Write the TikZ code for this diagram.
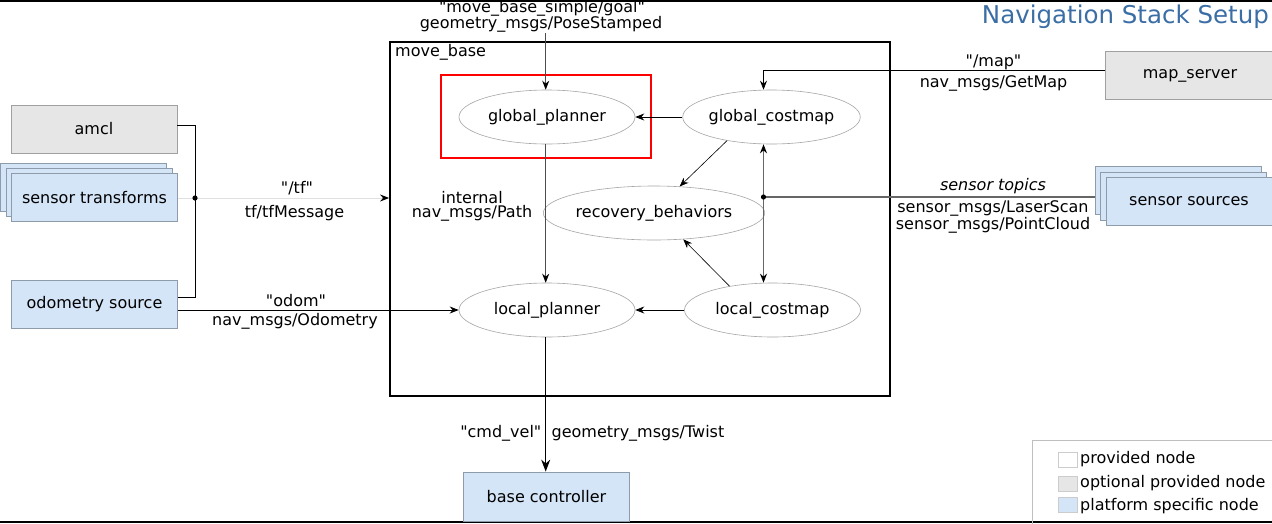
\documentclass[tikz,border=0pt]{standalone}
\usepackage{fontspec}
\setmainfont{DejaVu Sans}[Ligatures=TeXOff]
\usetikzlibrary{arrows.meta,shapes.geometric}
\definecolor{optgray}{HTML}{E6E6E6}
\definecolor{platblue}{HTML}{D5E5F8}
\definecolor{grayedge}{HTML}{A0A0A0}
\definecolor{blueedge}{HTML}{8E9BAA}
\definecolor{titleblue}{HTML}{3A6EA5}
\tikzset{
  optbox/.style={draw=grayedge, fill=optgray, minimum width=166pt, minimum height=48pt, inner sep=0pt, line width=0.8pt},
  platbox/.style={draw=blueedge, fill=platblue, minimum width=166pt, minimum height=48pt, inner sep=0pt, line width=0.8pt},
  proc/.style={ellipse, draw=black!35, line width=0.6pt, minimum width=176pt, minimum height=54pt, inner sep=0pt},
  lbl/.style={inner sep=0pt},
  conn/.style={draw=black, line width=0.8pt},
  tfconn/.style={draw=black!12, line width=1pt},
  sensconn/.style={draw=black!60, line width=1.5pt},
  swatch/.style={draw=black!20, minimum width=19pt, minimum height=15pt, inner sep=0pt, anchor=north west},
  tip/.style={-{Stealth[length=9pt,width=7pt,color=black]}},
  bigtip/.style={-{Stealth[length=12pt,width=9pt,color=black]}},
}
\begin{document}
\begin{tikzpicture}[x=1pt,y=-1pt,font=\fontsize{16}{18}\selectfont]
\clip (0,0) rectangle (1272,523);
\fill[white] (0,0) rectangle (1272,523);
% frame lines
\draw[line width=1.5pt] (0,0.75) -- (1272,0.75);
\draw[line width=2pt] (0,521.5) -- (1272,521.5);
% title
\node[lbl, anchor=base east, text=titleblue, font=\fontsize{24.5}{26}\selectfont] (title) at (1269,23.5) {Navigation Stack Setup};
% move_base container
\node[draw, line width=1.8pt, minimum width=500pt, minimum height=354pt, inner sep=0pt] (mb) at (640,219) {};
\node[lbl, anchor=west] (mblabel) at (395,52.5) {move\_base};
% left nodes
\node[optbox] (amcl) at (94,129) {amcl};
\node[platbox] (stb) at (83,187.5) {};
\node[platbox] (stm) at (89,192.5) {};
\node[platbox] (st) at (94.5,197.5) {sensor transforms};
\node[platbox] (odom) at (94.5,304) {odometry source};
% right nodes
\node[optbox, minimum width=170pt] (ms) at (1190,75.5) {map\_server};
\node[platbox] (ssb) at (1178,190.5) {};
\node[platbox] (ssm) at (1183.5,196) {};
\node[platbox] (ss) at (1189,201.5) {sensor sources};
% bottom
\node[platbox, minimum height=49pt] (bc) at (546.5,496.5) {base controller};
% processes
\node[proc] (gp) at (547,117) {global\_planner};
\node[proc] (gc) at (771.5,117) {global\_costmap};
\node[proc] (rb) at (654,213) {recovery\_behaviors};
\node[proc] (lp) at (547,310) {local\_planner};
\node[proc] (lc) at (772.5,310) {local\_costmap};
% highlight
\node[draw=red, line width=2.5pt, minimum width=210pt, minimum height=83pt, inner sep=0pt] (hl) at (546,116.5) {};
% coordinates
\coordinate (ja) at (195,125);
\coordinate (j) at (195,198);
\coordinate (jo) at (195,297);
\coordinate (goal) at (545.7,33);
\coordinate (mapc) at (763.5,70);
\coordinate (sj) at (763.5,197);
% tf connectors
\draw[conn] (amcl.east |- ja) -- (ja) -- (jo) -- (odom.east |- jo);
\draw[tfconn] (st.east |- j) -- (j);
\draw[tfconn, tip] (j) -- (j -| mb.west);
\fill (j) circle[radius=2.6pt];
\node[lbl] (tfa) at (297,188.5) {"/tf"};
\node[lbl] (tfb) at (294.5,213) {tf/tfMessage};
% odom
\draw[conn, tip] (odom.east |- 0,310) -- (lp.west);
\node[lbl] (oda) at (296,300.5) {"odom"};
\node[lbl] (odb) at (295,321) {nav\_msgs/Odometry};
% goal
\node[lbl] (goala) at (542,8) {"move\_base\_simple/goal"};
\node[lbl] (goalb) at (541,24) {geometry\_msgs/PoseStamped};
\draw[conn, draw=black!70, tip] (goal) -- (goal |- gp.north);
% internal path
\draw[conn, draw=black!70, tip] (goal |- gp.south) -- (goal |- lp.north);
\node[lbl] (ina) at (472,197.5) {internal};
\node[lbl] (inb) at (472,213.5) {nav\_msgs/Path};
% costmaps
\draw[conn, tip] (gc.west) -- (gp.east);
\draw[conn, tip] (lc.west) -- (lp.east);
\draw[line width=0.6pt, tip] (gc.208) -- (rb.46);
\draw[line width=0.6pt, tip] (lc.151) -- (rb.-42);
% map
\draw[conn, tip] (ms.west |- mapc) -- (mapc) -- (mapc |- gc.north);
\node[lbl] (mapa) at (993.5,62) {"/map"};
\node[lbl] (mapb) at (993.5,83) {nav\_msgs/GetMap};
% sensors
\draw[sensconn] (ssb.west |- sj) -- (sj);
\draw[sensconn, tip] (sj) -- (sj |- gc.south);
\draw[sensconn, tip] (sj) -- (sj |- lc.north);
\fill (sj) circle[radius=2.6pt];
\node[lbl, font=\fontsize{16}{18}\selectfont\itshape] (sa) at (993,186) {sensor topics};
\node[lbl] (sb) at (993,208.5) {sensor\_msgs/LaserScan};
\node[lbl] (sc) at (993,225.5) {sensor\_msgs/PointCloud};
% cmd_vel
\draw[line width=1.1pt, bigtip] (goal |- lp.south) -- (goal |- bc.north);
\node[lbl, anchor=east] (cva) at (541.5,433.5) {"cmd\_vel"};
\node[lbl, anchor=west] (cvb) at (551.5,433.5) {geometry\_msgs/Twist};
% legend
\node[draw=black!25, line width=0.8pt, minimum width=260pt, minimum height=100pt, inner sep=0pt, anchor=north west] (leg) at (1032,440) {};
\node[swatch, fill=white] (sw1) at (1058,452) {};
\node[swatch, fill=optgray] (sw2) at (1058,476) {};
\node[swatch, fill=platblue] (sw3) at (1058,497) {};
\node[lbl, anchor=west] (lg1) at (1080,459.5) {provided node};
\node[lbl, anchor=west] (lg2) at (1080,483.5) {optional provided node};
\node[lbl, anchor=west] (lg3) at (1080,506) {platform specific node};
\end{tikzpicture}
\end{document}
